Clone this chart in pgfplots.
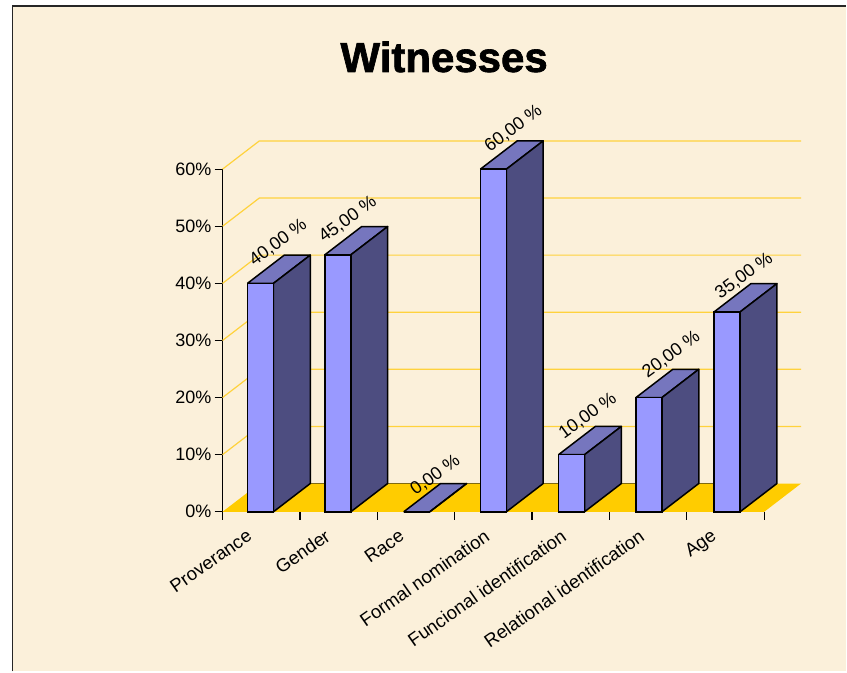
\documentclass[border=0pt]{standalone}
\usepackage{fontspec}
\setmainfont{Liberation Sans}
\newfontfamily\titlefont[BoldFeatures={FakeBold=1.6}]{Liberation Sans}
\usepackage{pgfplots}
\pgfplotsset{compat=1.18}
\definecolor{parch}{HTML}{FBF0DA}
\definecolor{frontc}{HTML}{9999FF}
\definecolor{topc}{HTML}{7676BE}
\definecolor{sidec}{HTML}{4D4D80}
\definecolor{floorc}{HTML}{FFCC00}
\definecolor{gridc}{HTML}{FFD23C}
\definecolor{flooredge}{HTML}{806A10}
\tikzset{vl/.style={rotate=36,font=\fontsize{18}{20}\selectfont,inner sep=0pt,anchor=center}}
\newcommand\dxx{0.476}
\newcommand\dyy{4.95}
\newcommand\bw{0.168}
\newcommand\wall[1]{%
  \pgfmathsetmacro\ya{#1+\dyy}%
  \edef\temp{\noexpand\addplot[gridc,line width=1.2pt,forget plot] coordinates {(0,#1) (\dxx,\ya) (7.476,\ya)};}\temp}
\newcommand\barfaces[2]{%
  \pgfmathsetmacro\xa{#1-\bw}\pgfmathsetmacro\xb{#1+\bw}%
  \pgfmathsetmacro\xc{\xa+\dxx}\pgfmathsetmacro\xd{\xb+\dxx}%
  \pgfmathsetmacro\yb{#2+\dyy}%
  \edef\temp{\noexpand\addplot[draw=black,fill=topc,line width=1.5pt,line join=round,forget plot] coordinates {(\xa,#2) (\xb,#2) (\xd,\yb) (\xc,\yb) (\xa,#2)};
  \noexpand\addplot[draw=black,fill=sidec,line width=1.5pt,line join=round,forget plot] coordinates {(\xb,0) (\xb,#2) (\xd,\yb) (\xd,\dyy) (\xb,0)};}\temp}
\begin{document}
\begin{tikzpicture}[x=1pt,y=1pt]
\fill[white] (0,0) rectangle (847,672);
\fill[parch] (12.5,0) rectangle (847,666);
\draw[black!85,line width=1.4pt] (12.5,0) -- (12.5,666) -- (847,666);
\begin{axis}[
  at={(222.7pt,159.8pt)},anchor=south west,
  scale only axis,width=542.15pt,height=342.9pt,
  xmin=0,xmax=7,ymin=0,ymax=60,
  clip=false,
  axis y line*=left,axis x line*=bottom,
  axis line style={black,line width=1.2pt,-},
  xtick={0,1,2,3,4,5,6,7},xticklabels={},
  extra x ticks={0.5,1.51,2.47,3.57,4.56,5.57,6.5},
  extra x tick labels={Proverance,Gender,Race,Formal nomination,Funcional identification,Relational identification,Age},
  extra x tick style={major tick length=0pt},
  x tick label style={font=\fontsize{18.5}{20}\selectfont,anchor=north east,inner sep=0pt,xshift=-15.5pt,yshift=-16.5pt,rotate=35},
  ytick={0,10,20,30,40,50,60},
  yticklabels={0\%,10\%,20\%,30\%,40\%,50\%,60\%},
  y tick label style={font=\fontsize{18}{20}\selectfont,inner sep=0pt,xshift=-3pt},
  tick style={black,line width=1.2pt},
  major tick length=8pt,
  tick align=outside,
  title={Witnesses},
  title style={at={(axis cs:2.863,78.6)},anchor=center,font=\fontsize{42}{44}\titlefont\bfseries,inner sep=0pt},
]
% floor
\addplot[draw=none,fill=floorc,forget plot] coordinates {(0,0) (7,0) (7.476,4.95) (0.476,4.95) (0,0)};
\addplot[flooredge,line width=1.2pt,forget plot] coordinates {(0.476,4.95) (6.95,4.95)};
% walls and grid
\wall{10}\wall{20}\wall{30}\wall{40}\wall{50}\wall{60}
% bars: depth faces
\barfaces{0.49}{40}
\barfaces{1.49}{45}
\barfaces{2.51}{0}
\barfaces{3.50}{60}
\barfaces{4.51}{10}
\barfaces{5.51}{20}
\barfaces{6.52}{35}
% front faces
\addplot[ybar,bar width=0.336,bar shift=0pt,draw=black,fill=frontc,line width=1.5pt] coordinates {(0.49,40) (1.49,45) (2.51,0) (3.50,60) (4.51,10) (5.51,20) (6.52,35)};
% value labels
\node[vl] at (axis cs:0.72,47.1) {40,00 \%};
\node[vl] at (axis cs:1.62,51.2) {45,00 \%};
\node[vl] at (axis cs:2.75,6.4) {0,00 \%};
\node[vl] at (axis cs:3.76,67.1) {60,00 \%};
\node[vl] at (axis cs:4.72,16.8) {10,00 \%};
\node[vl] at (axis cs:5.80,27.5) {20,00 \%};
\node[vl] at (axis cs:6.74,41.3) {35,00 \%};
\end{axis}
\path (0,0) rectangle (847,672);
\end{tikzpicture}
\end{document}
